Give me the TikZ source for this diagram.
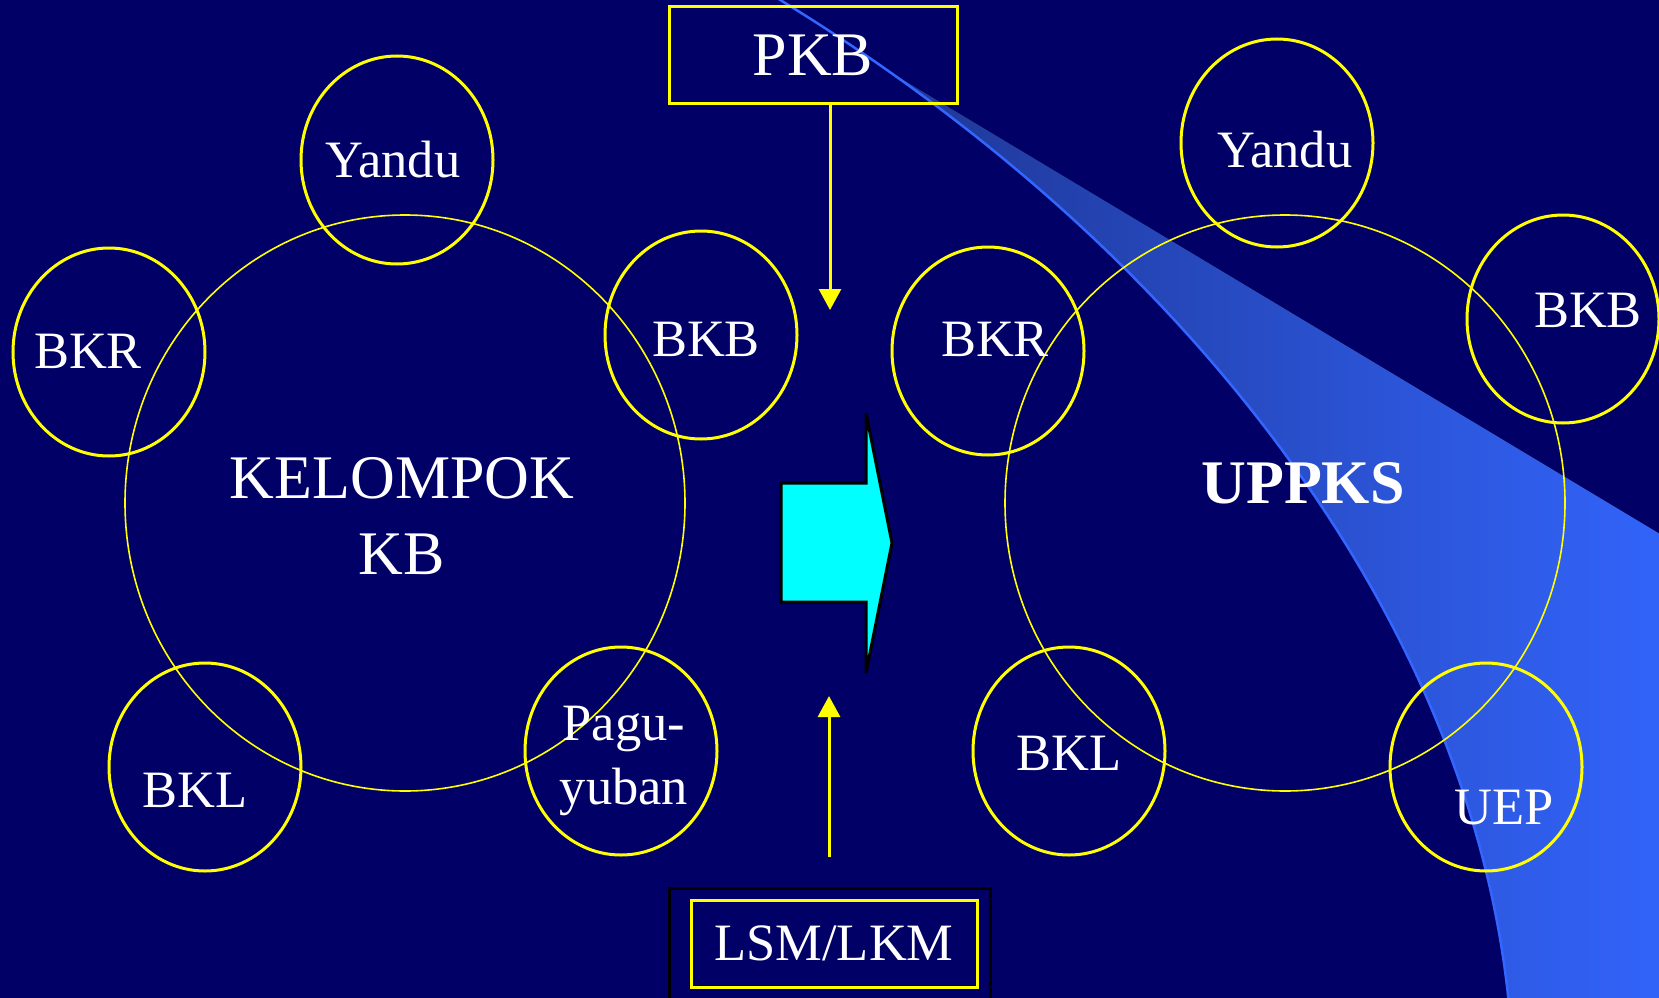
\documentclass[tikz,border=0pt]{standalone}
\usepackage{fontspec}
\setmainfont{Liberation Serif}
\usepackage{xcolor}
\usetikzlibrary{shapes.geometric}
\usetikzlibrary{arrows.meta}
\definecolor{kbnavy}{RGB}{0,0,102}
\definecolor{kbyellow}{RGB}{255,255,0}
\definecolor{kbcyan}{RGB}{0,255,255}
\definecolor{kbblue}{RGB}{51,102,255}
\definecolor{kbdim}{RGB}{28,48,135}
\tikzstyle{ring}=[ellipse, draw=kbyellow, line width=3pt, minimum width=192pt, minimum height=208pt, inner sep=0pt]
\tikzstyle{bigring}=[ellipse, draw=kbyellow, line width=1.6pt, minimum width=560pt, minimum height=576pt, inner sep=0pt]
\tikzstyle{tag}=[text=white, anchor=base, inner sep=0pt, font=\fontsize{52.5}{64}\selectfont]
\tikzstyle{title}=[text=white, anchor=base, inner sep=0pt, align=center, font=\fontsize{62}{76}\selectfont]
\tikzstyle{frame}=[draw=kbyellow, line width=3pt, text=white, inner sep=0pt]
\tikzstyle{link}=[-{Triangle[length=21pt,width=22pt]}, draw=kbyellow, fill=kbyellow, line width=3pt]

\begin{document}
\begin{tikzpicture}[x=1pt, y=-1pt]
    \fill[kbnavy] (0,0) rectangle (1659,998);
    \useasboundingbox (0,0) rectangle (1659,998);
    \clip (0,0) rectangle (1659,998);

    % swoosh
    \begin{scope}
      \clip (600,-102) -- (1700,558) -- (1700,1010) -- (600,1010) -- cycle;
      \fill[left color=kbdim, right color=kbblue]
        (777,-2) .. controls (969,115) and (1147,267) .. (1282,450)
                 .. controls (1401,611) and (1489,801) .. (1509,1005)
        -- (1700,1005) -- (1700,-2) -- cycle;
    \end{scope}
    \draw[kbblue, line width=2.5pt]
      (777,-2) .. controls (969,115) and (1147,267) .. (1282,450)
               .. controls (1401,611) and (1489,801) .. (1509,1005);

    % kelompok kb
    \node[bigring] (kbring) at (405,503) {};
    \node[ring] (yanduL) at (397,160) {};
    \node[ring] (bkrL)   at (109,352) {};
    \node[ring] (bkbL)   at (701,335) {};
    \node[ring] (bklL)   at (205,767) {};
    \node[ring] (paguL)  at (621,751) {};
    \node[title] (kbtext)     at (402,574) {KELOMPOK\\KB};
    \node[tag]   (yanduLtext) at (393,177) {Yandu};
    \node[tag]   (bkrLtext)   at (88,368)  {BKR};
    \node[tag]   (bkbLtext)   at (706,356) {BKB};
    \node[tag]   (bklLtext)   at (195,807) {BKL};
    \node[tag, align=center, font=\fontsize{52.5}{64}\selectfont] (paguLtext) at (624,804) {Pagu-\\yuban};

    % uppks
    \node[bigring] (upring) at (1285,503) {};
    \node[ring] (yanduR) at (1277,143) {};
    \node[ring] (bkrR)   at (988,351)  {};
    \node[ring] (bkbR)   at (1563,319) {};
    \node[ring] (bklR)   at (1069,751) {};
    \node[ring] (uepR)   at (1486,767) {};
    \node[title, font=\fontsize{62}{76}\selectfont\bfseries] (uptext) at (1303,503) {UPPKS};
    \node[tag] (yanduRtext) at (1285,167) {Yandu};
    \node[tag] (bkrRtext)   at (995,356)  {BKR};
    \node[tag] (bkbRtext)   at (1588,327) {BKB};
    \node[tag] (bklRtext)   at (1069,770) {BKL};
    \node[tag] (uepRtext)   at (1504,824) {UEP};

    % pkb and lsm
    \node[frame, minimum width=288pt, minimum height=96pt, font=\fontsize{62}{76}\selectfont] (pkb) at (813,55) {PKB};
    \node[draw=black, line width=3pt, minimum width=321pt, minimum height=140pt] (lsmouter) at (829.5,958) {};
    \node[frame, minimum width=286pt, minimum height=87pt, font=\fontsize{52.5}{64}\selectfont] (lsm) at (834,943.5) {LSM/LKM};

    \coordinate (pkbtip)  at (830,310);
    \coordinate (lsmtail) at (829,857);
    \coordinate (lsmtip)  at (829,696);
    \draw[link] (pkb.south -| pkbtip) -- (pkbtip);
    \draw[link] (lsmtail) -- (lsmtip);

    % big arrow
    \draw[fill=kbcyan, draw=black, line width=3pt]
      (781,483) -- (866,483) -- (866,413) -- (892,543) -- (866,673) -- (866,602) -- (781,602) -- cycle;
  \end{tikzpicture}
\end{document}
